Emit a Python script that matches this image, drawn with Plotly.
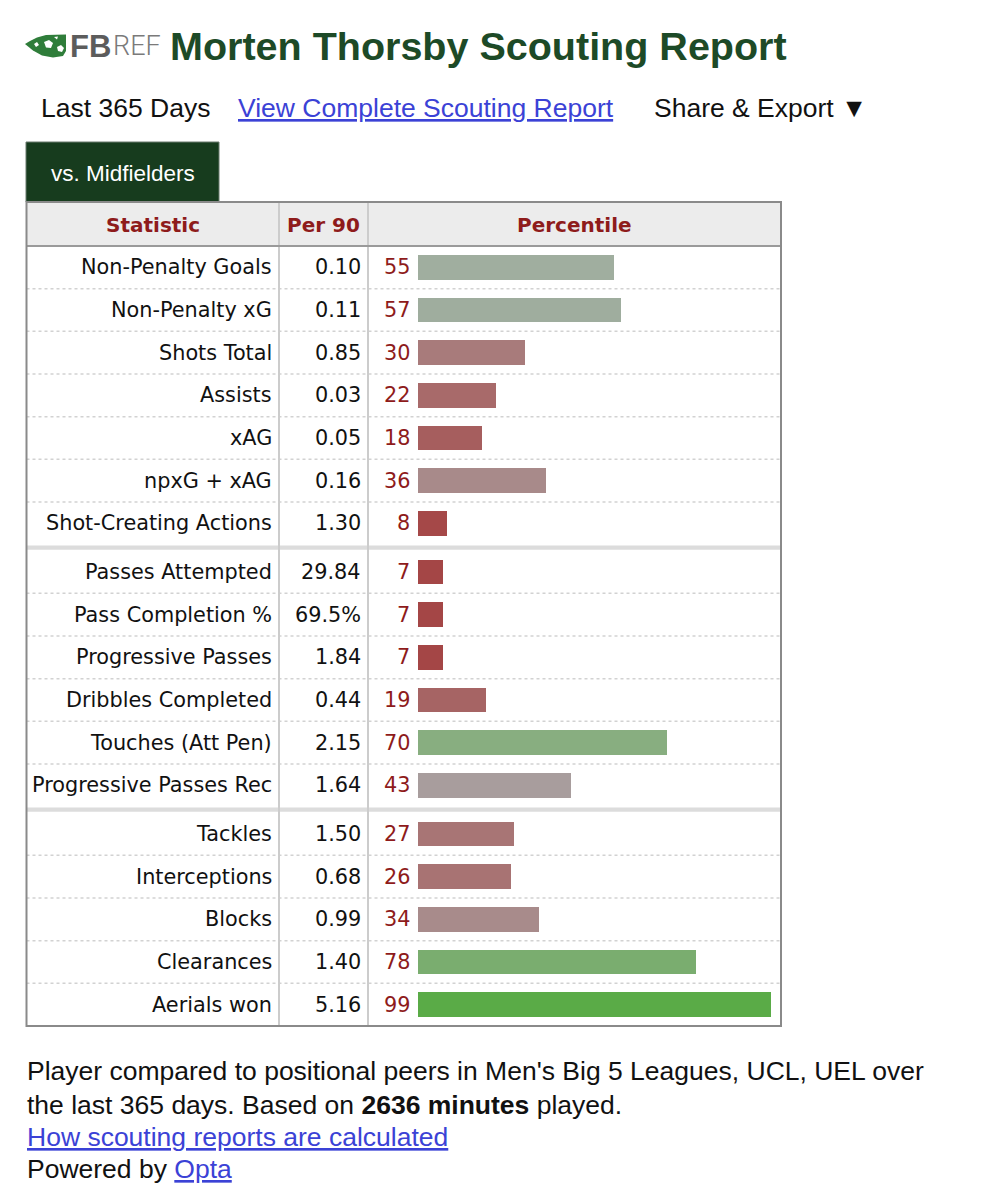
import plotly.graph_objects as go

# ---------------- data ----------------
statistics = ["Non-Penalty Goals", "Non-Penalty xG", "Shots Total", "Assists", "xAG",
              "npxG + xAG", "Shot-Creating Actions",
              "Passes Attempted", "Pass Completion %", "Progressive Passes",
              "Dribbles Completed", "Touches (Att Pen)", "Progressive Passes Rec",
              "Tackles", "Interceptions", "Blocks", "Clearances", "Aerials won"]
per90 = ["0.10", "0.11", "0.85", "0.03", "0.05", "0.16", "1.30",
         "29.84", "69.5%", "1.84", "0.44", "2.15", "1.64",
         "1.50", "0.68", "0.99", "1.40", "5.16"]
percentile = [55, 57, 30, 22, 18, 36, 8,
              7, 7, 7, 19, 70, 43,
              27, 26, 34, 78, 99]
section = [0] * 7 + [1] * 6 + [2] * 5

# ---------------- style ----------------
bar_colors = ["#a0ae9f", "#9fad9e", "#a87b7b", "#a86a6a", "#a65e5e", "#a88a8a", "#a54848",
              "#a44646", "#a44646", "#a44646", "#a66464", "#88ae80", "#a89d9d",
              "#a87575", "#a87373", "#a88b8b", "#7aad6f", "#5aab47"]

W, H = 984, 1200
def px(x): return x / W
def py(y): return 1 - y / H

ROW_PX = 42.67
GAP = 6 / ROW_PX
pos = [i + GAP * s for i, s in enumerate(section)]
y_top = -0.5
y_bot = len(statistics) - 0.5 + GAP * section[-1]

TABLE_L, TABLE_R = 26.5, 781
HEAD_T, HEAD_B, BODY_B = 202, 246, 1026
COL1, COL2 = 279, 368
DARKRED = "#8e1b1b"
LINK = "#3b42d6"
TFONT = "DejaVu Sans"
PFONT = "Liberation Sans"
PSIZE = 26.5
TSIZE = 20.8

fig = go.Figure()
fig.add_trace(go.Bar(
    x=percentile, y=pos, orientation="h", width=0.585,
    marker=dict(color=bar_colors, line=dict(width=0)),
    hoverinfo="skip", showlegend=False,
))

shapes = []
annotations = []

def rect(x0, y0, x1, y1, fill, line_color=None, lw=0, layer="below"):
    shapes.append(dict(type="rect", xref="paper", yref="paper",
                       x0=px(x0), x1=px(x1), y0=py(y0), y1=py(y1),
                       fillcolor=fill, line=dict(color=line_color or fill, width=lw),
                       layer=layer))

def hline_px(x0, x1, y, color, w, dash="solid", layer="below"):
    shapes.append(dict(type="line", xref="paper", yref="paper",
                       x0=px(x0), x1=px(x1), y0=py(y), y1=py(y),
                       line=dict(color=color, width=w, dash=dash), layer=layer))

def text(x, y, s, size, color="#000", font=PFONT, anchor="left", yref="paper", weight=None):
    f = dict(family=font, size=size, color=color)
    if weight is not None:
        f["weight"] = weight
    annotations.append(dict(xref="paper", yref=yref, x=px(x),
                            y=(py(y) if yref == "paper" else y),
                            text=s, showarrow=False, xanchor=anchor, yanchor="middle",
                            font=f))

# ----- header area: logo, title, nav -----
def path_from(points):
    return "M " + " L ".join(f"{px(a):.5f},{py(b):.5f}" for a, b in points) + " Z"

logo_pts = [(25, 44), (30, 41), (37, 37.5), (46, 35), (66, 34.5), (66, 51),
            (63, 56), (53, 57.5), (42, 55.5), (33, 50.5)]
shapes.append(dict(type="path", xref="paper", yref="paper", path=path_from(logo_pts),
                   fillcolor="#2f7d3a", line=dict(width=0), layer="above"))
for pts in [[(44, 42), (49, 40), (53, 43), (51, 48), (46, 47.5)],
            [(57, 47), (61, 45), (64, 48), (62, 52), (58, 51)],
            [(34, 44), (37, 42), (39, 45), (36, 47)],
            [(54, 37), (58, 36.5), (57, 39.5)]]:
    shapes.append(dict(type="path", xref="paper", yref="paper", path=path_from(pts),
                       fillcolor="#ffffff", line=dict(width=0), layer="above"))

text(67.5, 46, "<b>FB</b>", 31, "#5c5c5c")
text(111, 46, "REF", 27, "#7a7a7a", font="Roboto", weight=300)
text(168, 46, "<b>Morten Thorsby Scouting Report</b>", 39.5, "#1d4a27")

text(39, 108, "Last 365 Days", PSIZE, "#111")
text(236, 108, "<u>View Complete Scouting Report</u>", PSIZE, LINK)
text(652, 108, "Share &amp; Export ▼", PSIZE, "#111")

# ----- tab -----
rect(26, 142, 219, HEAD_T, "#173c1e", "#6b7a6e", 1)
text(122.5, 173, "vs. Midfielders", 22.5, "#ffffff", anchor="center")

# ----- table frame -----
rect(TABLE_L, HEAD_T, TABLE_R, HEAD_B, "#ececec")
for i in range(len(pos) - 1):
    mid_a = pos[i] + 0.5
    if section[i] == section[i + 1]:
        shapes.append(dict(type="line", xref="paper", yref="y",
                           x0=px(TABLE_L), x1=px(TABLE_R), y0=mid_a, y1=mid_a,
                           line=dict(color="#d2d2d2", width=1.5, dash="dot"), layer="below"))
    else:
        shapes.append(dict(type="rect", xref="paper", yref="y",
                           x0=px(TABLE_L), x1=px(TABLE_R), y0=mid_a + 0.02, y1=mid_a + GAP - 0.02,
                           fillcolor="#dcdcdc", line=dict(width=0), layer="below"))
for cx in (COL1, COL2):
    shapes.append(dict(type="line", xref="paper", yref="paper",
                       x0=px(cx), x1=px(cx), y0=py(HEAD_T), y1=py(BODY_B),
                       line=dict(color="#cccccc", width=2), layer="below"))
hline_px(TABLE_L, TABLE_R, HEAD_B, "#9a9a9a", 2)
rect(TABLE_L, HEAD_T, TABLE_R, BODY_B, "rgba(0,0,0,0)", "#8a8a8a", 2, layer="above")

# header labels
text((TABLE_L + COL1) / 2, 225, "<b>Statistic</b>", 20, DARKRED, TFONT, "center")
text((COL1 + COL2) / 2, 225, "<b>Per 90</b>", 20, DARKRED, TFONT, "center")
text((COL2 + TABLE_R) / 2, 225, "<b>Percentile</b>", 20, DARKRED, TFONT, "center")

# row texts
for name, v, p, yy in zip(statistics, per90, percentile, pos):
    text(273.5, yy, name, TSIZE, "#111", TFONT, "right", yref="y")
    text(362.5, yy, v, TSIZE, "#111", TFONT, "right", yref="y")
    text(412, yy, str(p), TSIZE, DARKRED, TFONT, "right", yref="y")

# ----- footer -----
text(25, 1071, "Player compared to positional peers in Men's Big 5 Leagues, UCL, UEL over", PSIZE, "#111")
text(25, 1105, "the last 365 days. Based on <b>2636 minutes</b> played.", PSIZE, "#111")
text(25, 1137, "<u>How scouting reports are calculated</u>", PSIZE, LINK)
text(25, 1169, "Powered by <span style='color:%s'><u>Opta</u></span>" % LINK, PSIZE, "#111")

fig.update_layout(
    width=W, height=H,
    margin=dict(l=0, r=0, t=0, b=0),
    paper_bgcolor="#ffffff", plot_bgcolor="rgba(0,0,0,0)",
    xaxis=dict(domain=[px(418), px(418 + 3.564 * 100)], range=[0, 100], visible=False,
               fixedrange=True),
    yaxis=dict(domain=[py(BODY_B), py(HEAD_B)], range=[y_bot, y_top], visible=False,
               fixedrange=True),
    shapes=shapes, annotations=annotations,
    bargap=0, showlegend=False,
)

fig.write_html("out.html")
